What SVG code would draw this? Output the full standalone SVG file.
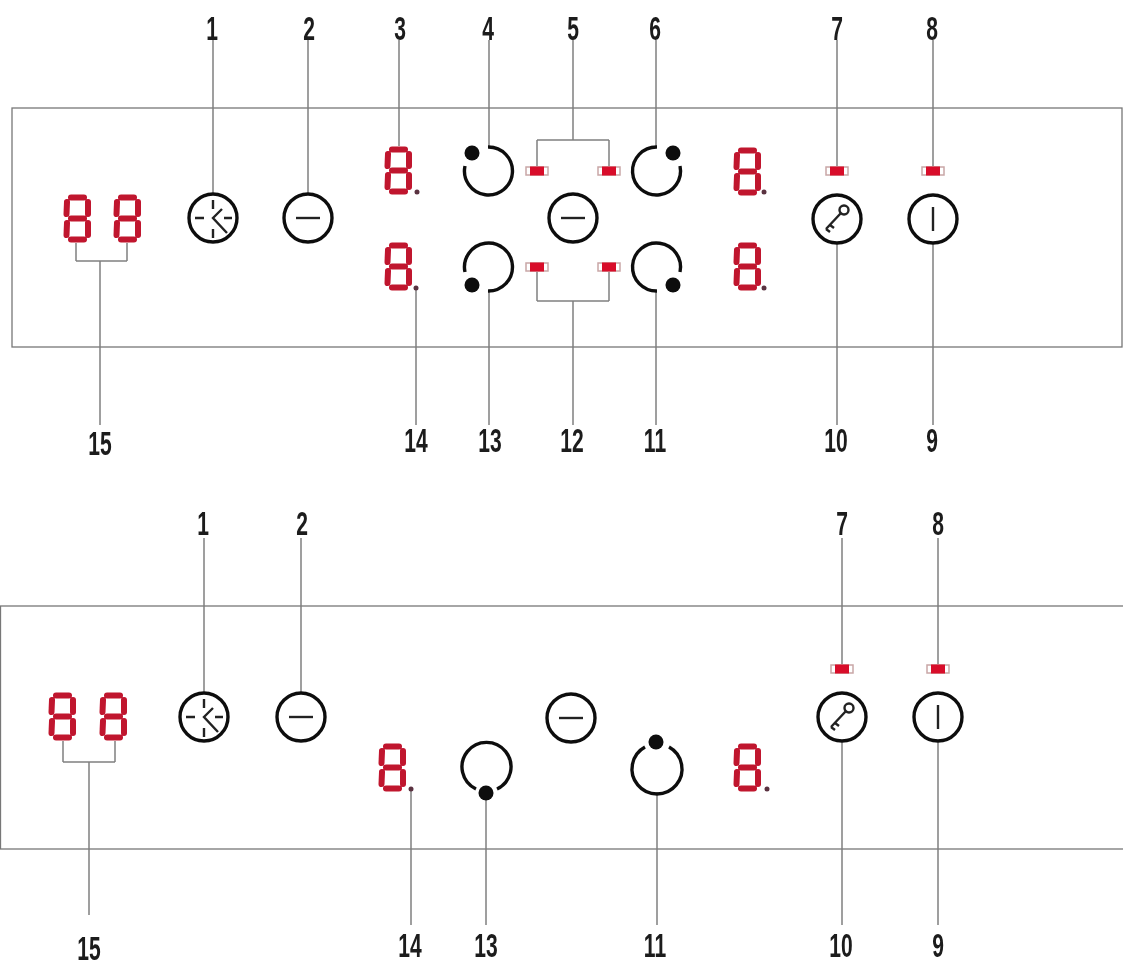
<svg xmlns="http://www.w3.org/2000/svg" width="1123" height="965" viewBox="0 0 1123 965">
<style>
.panel{fill:none;stroke:#777;stroke-width:1.3}
.c{fill:none;stroke:#808080;stroke-width:1.5}
.r{fill:none;stroke:#111;stroke-width:3.400}
.g{fill:none;stroke:#222;stroke-width:2.4}
.d{fill:#0a0a0a}
.seg{fill:none;stroke:#c0122d;stroke-width:6;stroke-linecap:round}
.dp{fill:#5a3040}
.ledb{fill:#fff;stroke:#c9a7a7;stroke-width:1.5}
.ledc{fill:#d8102a}
.t{font-family:"Liberation Sans",Arial,sans-serif;font-size:34px;font-weight:700;fill:#1a1a1a;text-anchor:middle}
</style>
<defs>
<filter id="soft" x="0" y="0" width="100%" height="100%"><feGaussianBlur stdDeviation="0.6"/></filter>
<g id="digit"><path class="seg" d="M8 3.500H21M8 24.500H21M8 45.500H21M4 8L3.500 20M25 8L25 20M4 29L3.500 41M25 29L25 41"/></g>
<g id="led"><rect class="ledb" x="-11" y="-4" width="22" height="8"/><rect class="ledc" x="-7" y="-4.500" width="14" height="9"/></g>
<g id="minus"><circle class="r" r="24"/><path class="g" d="M-12 0H12" stroke-width="2.800"/></g>
<g id="cornerring"><path class="r" d="M-1 -24A24 24 0 1 1 -24 -5"/><circle class="d" cx="-17" cy="-18" r="7.500"/></g>
<g id="clock"><circle class="r" r="24"/><path class="g" d="M0 -18V-9M0 11V20M-18 0H-9M11 0H19M9 -9L0 0L14 15"/></g>
<g id="key"><circle class="r" r="24"/><circle class="g" cx="7" cy="-9" r="4.500" stroke-width="2.800"/><path class="g" stroke-width="2.800" d="M4 -6L-11 10M-7 6L-3 9M-11 10L-7 13"/></g>
<g id="power"><circle class="r" r="24"/><path class="g" d="M0 -12V12" stroke-width="2.800"/></g>
</defs>
<rect width="1123" height="965" fill="#fff"/>
<g filter="url(#soft)">
<g id="panels">
<rect class="panel" x="12" y="108" width="1110" height="239"/>
<rect class="panel" x="0.500" y="606" width="1130" height="243"/>
</g>
<g id="connectors">
<path class="c" d="M213 40V193M308 40V193M399 40V146M489 40V147M573 40V140M537 140H609M537 140V166M609 140V166M656 40V147M837 40V166M933 40V166"/>
<path class="c" d="M933 244V425M837 244V425M656 291V425M573 301V425M537 301H609M537 272V301M609 272V301M489 291V425M416 288V425M100 261V425M76 261H127M76 243V261M127 243V261"/>
<path class="c" d="M204 538V692M301 538V692M842 538V664M938 538V664M938 742V925M842 742V925M657 792V925M486 800V925M411 790V925M89 762V915M63 762H115M63 741V762M115 741V762"/>
</g>
<g id="top-display-15"><use href="#digit" x="63" y="194"/><use href="#digit" x="113" y="194"/></g>
<g id="top-clock-1"><use href="#clock" x="213" y="218"/></g>
<g id="top-minus-2"><use href="#minus" x="308" y="218"/></g>
<g id="top-digit-3"><use href="#digit" x="384" y="146"/><circle class="dp" cx="417" cy="192" r="2.500"/></g>
<g id="top-digit-14"><use href="#digit" x="384" y="242"/><circle class="dp" cx="416" cy="288" r="2.500"/></g>
<g id="top-ring-4"><use href="#cornerring" transform="translate(489 171)"/></g>
<g id="top-ring-6"><use href="#cornerring" transform="translate(656 171) scale(-1 1)"/></g>
<g id="top-ring-13"><use href="#cornerring" transform="translate(489 267) scale(1 -1)"/></g>
<g id="top-ring-11"><use href="#cornerring" transform="translate(656 267) scale(-1 -1)"/></g>
<g id="top-led-5a"><use href="#led" x="537" y="171"/></g>
<g id="top-led-5b"><use href="#led" x="609" y="171"/></g>
<g id="top-led-12a"><use href="#led" x="537" y="267"/></g>
<g id="top-led-12b"><use href="#led" x="609" y="267"/></g>
<g id="top-minus-center"><use href="#minus" x="573" y="218"/></g>
<g id="top-digit-right-a"><use href="#digit" x="733" y="147"/><circle class="dp" cx="764" cy="192" r="2.500"/></g>
<g id="top-digit-right-b"><use href="#digit" x="733" y="242"/><circle class="dp" cx="764" cy="288" r="2.500"/></g>
<g id="top-led-7"><use href="#led" x="837" y="171"/></g>
<g id="top-led-8"><use href="#led" x="933" y="171"/></g>
<g id="top-key-10"><use href="#key" x="837" y="219"/></g>
<g id="top-power-9"><use href="#power" x="933" y="219"/></g>

<g id="bottom-display-15"><use href="#digit" x="48" y="692"/><use href="#digit" x="99" y="692"/></g>
<g id="bottom-clock-1"><use href="#clock" x="204" y="717"/></g>
<g id="bottom-minus-2"><use href="#minus" x="301" y="717"/></g>
<g id="bottom-minus-center"><use href="#minus" x="571" y="718"/></g>
<g id="bottom-digit-14"><use href="#digit" x="378" y="743"/><circle class="dp" cx="411" cy="789" r="2.500"/></g>
<g id="bottom-ring-13"><path class="r" d="M476 789A24.500 24.500 0 1 1 497 789"/><circle class="d" cx="486" cy="793" r="7.500"/></g>
<g id="bottom-ring-11"><path class="r" d="M669 747A25 25 0 1 1 645 747"/><circle class="d" cx="656" cy="742" r="7.500"/></g>
<g id="bottom-digit-right"><use href="#digit" x="733" y="743"/><circle class="dp" cx="767" cy="789" r="2.500"/></g>
<g id="bottom-led-7"><use href="#led" x="842" y="669"/></g>
<g id="bottom-led-8"><use href="#led" x="938" y="669"/></g>
<g id="bottom-key-10"><use href="#key" x="842" y="717"/></g>
<g id="bottom-power-9"><use href="#power" x="938" y="717"/></g>

<g id="labels">
<text class="t" transform="translate(212 40) scale(.62 1)">1</text>
<text class="t" transform="translate(309 40) scale(.62 1)">2</text>
<text class="t" transform="translate(400 40) scale(.62 1)">3</text>
<text class="t" transform="translate(488 40) scale(.62 1)">4</text>
<text class="t" transform="translate(573 40) scale(.62 1)">5</text>
<text class="t" transform="translate(655 40) scale(.62 1)">6</text>
<text class="t" transform="translate(837 40) scale(.62 1)">7</text>
<text class="t" transform="translate(932 40) scale(.62 1)">8</text>
<text class="t" transform="translate(100 455) scale(.62 1)">15</text>
<text class="t" transform="translate(416 452) scale(.62 1)">14</text>
<text class="t" transform="translate(490 452) scale(.62 1)">13</text>
<text class="t" transform="translate(572 452) scale(.62 1)">12</text>
<text class="t" transform="translate(655 452) scale(.62 1)">11</text>
<text class="t" transform="translate(836 452) scale(.62 1)">10</text>
<text class="t" transform="translate(932 452) scale(.62 1)">9</text>
<text class="t" transform="translate(203 535) scale(.62 1)">1</text>
<text class="t" transform="translate(302 535) scale(.62 1)">2</text>
<text class="t" transform="translate(842 535) scale(.62 1)">7</text>
<text class="t" transform="translate(938 535) scale(.62 1)">8</text>
<text class="t" transform="translate(89 960) scale(.62 1)">15</text>
<text class="t" transform="translate(410 957) scale(.62 1)">14</text>
<text class="t" transform="translate(486 957) scale(.62 1)">13</text>
<text class="t" transform="translate(655 957) scale(.62 1)">11</text>
<text class="t" transform="translate(841 957) scale(.62 1)">10</text>
<text class="t" transform="translate(938 957) scale(.62 1)">9</text>
</g>
</g>
</svg>
